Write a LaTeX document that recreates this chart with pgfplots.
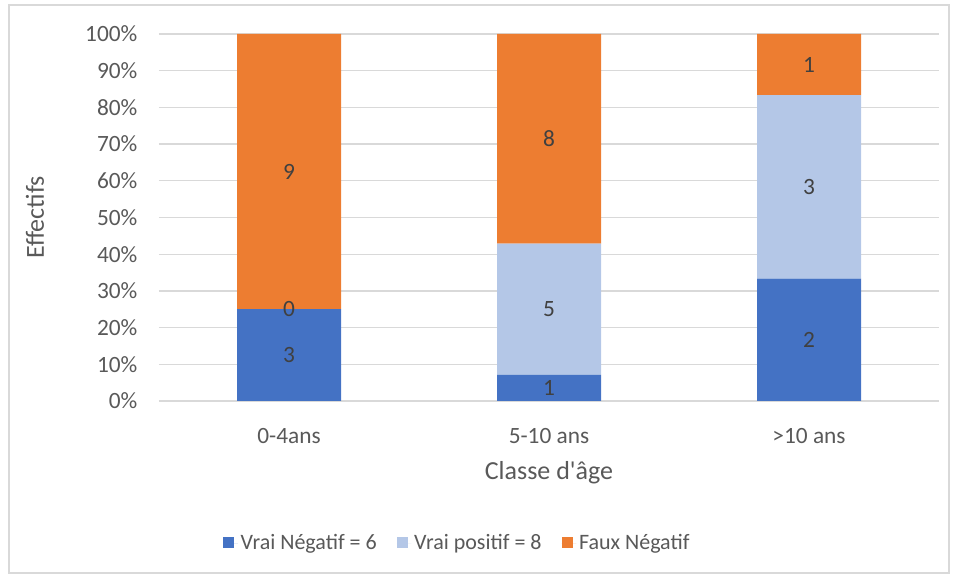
\documentclass[border=0pt]{standalone}
\usepackage{pgfplots}
\pgfplotsset{compat=1.18}
\usepackage{pgfplotstable}
\usepackage{fontspec}
\setmainfont{Carlito}[Ligatures=TeXOff]
\definecolor{vnblue}{HTML}{4472C4}
\definecolor{vplight}{HTML}{B4C7E7}
\definecolor{fnorange}{HTML}{ED7D31}
\definecolor{txtgray}{HTML}{595959}
\definecolor{lblgray}{HTML}{404040}
\definecolor{gridgray}{HTML}{D9D9D9}
\pgfplotstableread{
x vn vp fn
0 25 0 75
1 7.142857 35.714286 57.142857
2 33.333333 50 16.666667
}\data
\pgfplotstableread{
x y n
0 12.5 3
1 3.571 1
2 16.667 2
0 25 0
1 25 5
2 58.333 3
0 62.5 9
1 71.429 8
2 91.667 1
}\labels
\begin{document}
\begin{tikzpicture}
\useasboundingbox (0,0) rectangle (718.5pt,433.5pt);
\draw[gridgray, line width=0.9pt] (6.75pt,3.75pt) rectangle (711.75pt,429.75pt);
\begin{axis}[
  at={(119.25pt,132.75pt)}, anchor=south west,
  scale only axis, width=585pt, height=275.25pt,
  ybar stacked, bar width=0.4,
  xmin=-0.5, xmax=2.5, ymin=0, ymax=100,
  enlargelimits=false,
  xtick={0,1,2}, xticklabels={0-4ans,5-10 ans,>10 ans},
  ytick={0,10,...,100},
  yticklabel={\pgfmathprintnumber{\tick}\%},
  /pgf/number format/assume math mode=true,
  major tick length=0pt,
  axis line style={draw=none},
  ymajorgrids, grid style={gridgray, line width=1pt},
  tick label style={font=\fontsize{17.5}{20}\selectfont, text=txtgray},
  yticklabel style={anchor=east, inner sep=0pt, xshift=-16pt},
  xticklabel style={anchor=north, inner sep=0pt, yshift=-20pt},
  xlabel={Classe d'âge}, ylabel={Effectifs},
  label style={font=\fontsize{19.5}{23}\selectfont, text=txtgray},
  xlabel style={at={(axis description cs:0.5,-0.196)}, anchor=center},
  ylabel style={at={(axis description cs:-0.159,0.5)}, anchor=center},
  legend columns=3,
  legend style={at={(axis description cs:0.383,-0.387)}, anchor=center, draw=none,
    font=\fontsize{16.5}{19}\selectfont, text=txtgray,
    /tikz/every even column/.append style={column sep=13pt}},
  legend image code/.code={\fill[#1] (0pt,-4pt) rectangle (8.3pt,4.3pt); \path (0pt,0pt) -- (11pt,0pt);},
]
\addplot[fill=vnblue, draw=none] table[x=x, y=vn] {\data};
\addlegendentry{Vrai Négatif = 6}
\addplot[fill=vplight, draw=none] table[x=x, y=vp] {\data};
\addlegendentry{Vrai positif = 8}
\addplot[fill=fnorange, draw=none] table[x=x, y=fn] {\data};
\addlegendentry{Faux Négatif}
\end{axis}
\begin{axis}[
  at={(119.25pt,132.75pt)}, anchor=south west,
  scale only axis, width=585pt, height=275.25pt,
  xmin=-0.5, xmax=2.5, ymin=0, ymax=100,
  hide axis,
]
\addplot[only marks, mark size=0pt, nodes near coords, point meta=explicit symbolic,
  every node near coord/.append style={anchor=center, font=\fontsize{17.5}{20}\selectfont, text=lblgray}]
  table[x=x, y=y, meta=n] {\labels};
\end{axis}
\end{tikzpicture}
\end{document}
